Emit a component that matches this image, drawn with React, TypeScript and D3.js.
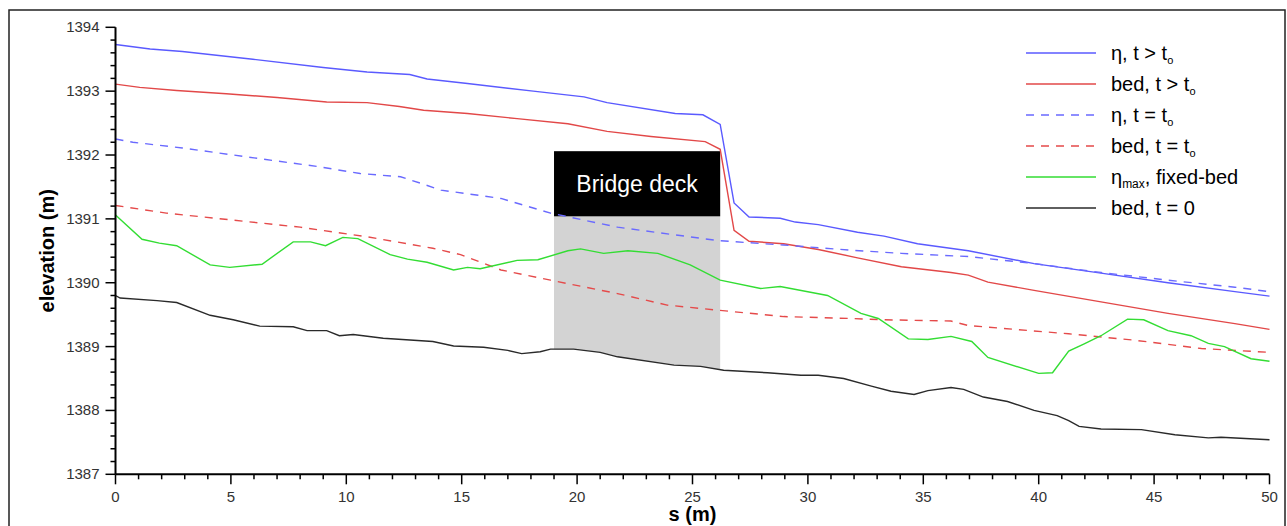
import React from 'react';
import * as d3 from 'd3';

const WIDTH = 1287;
const HEIGHT = 526;
const PLOT = { left: 115.5, right: 1269.5, top: 27.3, bottom: 474.3 };
const FONT = '"Liberation Sans", Arial, sans-serif';

// eta, t > t0
const ETA_T_S = [0, 1.5, 2.9, 5.95, 9.0, 10.9, 12.75, 13.5, 15.25, 18.1, 20.3, 21.3, 24.25, 25.45, 26.2, 26.8, 27.45, 28.8, 29.45, 30.45, 32.15, 33.3, 34.75, 36.95, 39.8, 42.7, 45.6, 48.5, 50];
const ETA_T_V = [1393.73, 1393.66, 1393.62, 1393.5, 1393.37, 1393.3, 1393.26, 1393.19, 1393.12, 1393.0, 1392.91, 1392.82, 1392.65, 1392.63, 1392.48, 1391.25, 1391.03, 1391.01, 1390.95, 1390.91, 1390.79, 1390.73, 1390.61, 1390.5, 1390.3, 1390.15, 1390.0, 1389.86, 1389.79];

// bed, t > t0
const BED_T_S = [0, 1.05, 2.65, 4.8, 7.0, 9.15, 10.9, 12.3, 13.35, 15.25, 17.4, 19.6, 21.3, 23.2, 25.55, 26.2, 26.8, 27.45, 28.95, 30.45, 32.15, 34.05, 36.2, 36.95, 37.8, 39.8, 42.7, 45.6, 48.5, 50];
const BED_T_V = [1393.11, 1393.06, 1393.01, 1392.96, 1392.9, 1392.83, 1392.82, 1392.76, 1392.7, 1392.65, 1392.57, 1392.49, 1392.37, 1392.29, 1392.21, 1392.09, 1390.82, 1390.65, 1390.61, 1390.52, 1390.39, 1390.25, 1390.16, 1390.12, 1390.01, 1389.88, 1389.7, 1389.52, 1389.36, 1389.27];

// eta, t = t0
const ETA_0_S = [0, 0.75, 2.9, 5.5, 8.75, 10.6, 12.35, 13.2, 14.1, 16.7, 18.85, 21.75, 26.1, 28.95, 31.85, 34.05, 36.95, 39.8, 42.7, 45.6, 48.5, 50];
const ETA_0_V = [1392.25, 1392.2, 1392.11, 1391.98, 1391.82, 1391.71, 1391.66, 1391.56, 1391.45, 1391.32, 1391.09, 1390.87, 1390.66, 1390.59, 1390.51, 1390.46, 1390.41, 1390.3, 1390.16, 1390.04, 1389.93, 1389.86];

// bed, t = t0
const BED_0_S = [0, 2.2, 5.1, 8.0, 10.9, 13.75, 14.95, 16.7, 18.85, 21.75, 23.9, 26.1, 28.95, 31.85, 33.3, 36.2, 36.95, 41.3, 44.15, 47.05, 50];
const BED_0_V = [1391.21, 1391.09, 1390.98, 1390.87, 1390.72, 1390.54, 1390.44, 1390.2, 1390.04, 1389.83, 1389.65, 1389.57, 1389.47, 1389.44, 1389.42, 1389.4, 1389.33, 1389.2, 1389.1, 1388.97, 1388.91];

// eta_max, fixed-bed
const ETA_MAX_S = [0, 1.15, 1.9, 2.65, 4.1, 4.95, 6.35, 7.7, 8.45, 9.1, 9.85, 10.5, 11.9, 12.65, 13.5, 14.65, 15.25, 15.8, 17.4, 18.3, 19.6, 20.15, 21.15, 22.2, 23.5, 24.9, 26.2, 27.95, 28.8, 30.85, 32.3, 33.05, 34.35, 35.2, 36.2, 37.1, 37.8, 40.0, 40.6, 41.3, 41.95, 42.7, 43.85, 44.55, 45.6, 46.6, 47.35, 48.05, 49.2, 50];
const ETA_MAX_V = [1391.06, 1390.68, 1390.62, 1390.58, 1390.28, 1390.24, 1390.29, 1390.64, 1390.64, 1390.58, 1390.71, 1390.69, 1390.44, 1390.37, 1390.32, 1390.2, 1390.24, 1390.22, 1390.35, 1390.36, 1390.5, 1390.53, 1390.46, 1390.5, 1390.46, 1390.28, 1390.04, 1389.91, 1389.94, 1389.8, 1389.52, 1389.44, 1389.12, 1389.11, 1389.16, 1389.08, 1388.83, 1388.58, 1388.59, 1388.93, 1389.04, 1389.17, 1389.43, 1389.42, 1389.25, 1389.17, 1389.05, 1389.0, 1388.81, 1388.77];

// bed, t = 0
const BED_INIT_S = [0, 0.2, 1.8, 2.65, 4.1, 5.1, 6.25, 7.7, 8.3, 9.15, 9.7, 10.3, 11.6, 13.75, 14.65, 15.95, 17.0, 17.6, 18.4, 18.85, 19.85, 21.0, 21.75, 24.2, 25.35, 26.35, 28.25, 29.7, 30.45, 31.55, 32.75, 33.6, 34.6, 35.2, 36.2, 36.75, 37.6, 38.65, 39.8, 40.8, 41.3, 41.75, 42.7, 44.45, 45.9, 47.35, 47.9, 50];
const BED_INIT_V = [1389.8, 1389.76, 1389.72, 1389.69, 1389.49, 1389.42, 1389.32, 1389.31, 1389.25, 1389.25, 1389.17, 1389.19, 1389.13, 1389.08, 1389.01, 1388.99, 1388.94, 1388.89, 1388.92, 1388.96, 1388.96, 1388.91, 1388.84, 1388.71, 1388.69, 1388.63, 1388.59, 1388.55, 1388.55, 1388.5, 1388.38, 1388.3, 1388.25, 1388.31, 1388.36, 1388.33, 1388.21, 1388.14, 1388.0, 1387.92, 1387.84, 1387.75, 1387.71, 1387.7, 1387.62, 1387.57, 1387.58, 1387.54];

// bridge deck
const DECK_S = [19, 26.2];
const DECK_V = [1391.04, 1392.06];
const DECK_LABEL = 'Bridge deck';

const X_DOMAIN = [0, 50];
const Y_DOMAIN = [1387, 1394];

const SERIES = [
  { key: 'etaT', s: ETA_T_S, v: ETA_T_V, color: '#5a5aff', dash: null, label: 'η, t > t', sub: 'o', rest: '' },
  { key: 'bedT', s: BED_T_S, v: BED_T_V, color: '#e24848', dash: null, label: 'bed, t > t', sub: 'o', rest: '' },
  { key: 'eta0', s: ETA_0_S, v: ETA_0_V, color: '#6a6aff', dash: '8,7', label: 'η, t = t', sub: 'o', rest: '' },
  { key: 'bed0', s: BED_0_S, v: BED_0_V, color: '#e54a4a', dash: '8,7', label: 'bed, t = t', sub: 'o', rest: '' },
  { key: 'etaMax', s: ETA_MAX_S, v: ETA_MAX_V, color: '#33dd33', dash: null, label: 'η', sub: 'max', rest: ', fixed-bed' },
  { key: 'bedInit', s: BED_INIT_S, v: BED_INIT_V, color: '#2a2a2a', dash: null, label: 'bed, t = 0', sub: '', rest: '' },
];

export default function App() {
  const x = d3.scaleLinear().domain(X_DOMAIN).range([PLOT.left, PLOT.right]);
  const y = d3.scaleLinear().domain(Y_DOMAIN).range([PLOT.bottom, PLOT.top]);

  const line = d3
    .line<[number, number]>()
    .x((d) => x(d[0]))
    .y((d) => y(d[1]));

  // gray pier/opening region under the deck, down to the initial bed
  const bedAt = d3.scaleLinear().domain(BED_INIT_S).range(BED_INIT_V);
  const openPts: number[] = [DECK_S[0], ...BED_INIT_S.filter((s) => s > DECK_S[0] && s < DECK_S[1]), DECK_S[1]];
  const openArea = d3
    .area<number>()
    .x((s) => x(s))
    .y0((s) => y(bedAt(s)))
    .y1(() => y(DECK_V[0]));

  const xMinor = x.ticks(50);
  const xMajor = x.ticks(10);
  const yMinor = y.ticks(35);
  const yMajor = y.ticks(7);

  const legendX = 1026;
  const legendY = 53;
  const legendStep = 31;

  return (
    <svg
      width={WIDTH}
      height={HEIGHT}
      style={{ position: 'absolute', left: 0, top: 0, background: '#fff' }}
      fontFamily={FONT}
    >
      <rect x={0} y={0} width={WIDTH} height={HEIGHT} fill="#fff" />
      <rect x={9} y={10} width={1276} height={540} fill="none" stroke="#222" strokeWidth={1.5} />

      <path d={openArea(openPts) ?? ''} fill="#d3d3d3" />
      <rect
        x={x(DECK_S[0])}
        y={y(DECK_V[1])}
        width={x(DECK_S[1]) - x(DECK_S[0])}
        height={y(DECK_V[0]) - y(DECK_V[1])}
        fill="#000"
      />
      <text
        x={(x(DECK_S[0]) + x(DECK_S[1])) / 2}
        y={(y(DECK_V[0]) + y(DECK_V[1])) / 2 + 8}
        textAnchor="middle"
        fill="#fff"
        fontSize={23}
      >
        {DECK_LABEL}
      </text>

      {SERIES.map((sr) => (
        <path
          key={sr.key}
          d={line(sr.s.map((s, i) => [s, sr.v[i]] as [number, number])) ?? ''}
          fill="none"
          stroke={sr.color}
          strokeWidth={1.4}
          strokeDasharray={sr.dash ?? undefined}
        />
      ))}

      {/* axes */}
      <line x1={PLOT.left} x2={PLOT.right} y1={PLOT.bottom} y2={PLOT.bottom} stroke="#000" strokeWidth={2} />
      <line x1={PLOT.left} x2={PLOT.left} y1={PLOT.top} y2={PLOT.bottom} stroke="#000" strokeWidth={2} />
      {xMinor.map((t) => (
        <line key={`xm-${t}`} x1={x(t)} x2={x(t)} y1={PLOT.bottom} y2={PLOT.bottom + (t % 5 === 0 ? 10 : 5)} stroke="#000" strokeWidth={1.5} />
      ))}
      {xMajor.map((t) => (
        <text key={`xl-${t}`} x={x(t)} y={PLOT.bottom + 28} textAnchor="middle" fontSize={15} fill="#333">
          {t}
        </text>
      ))}
      {yMinor.map((t) => {
        const major = Math.abs(t - Math.round(t)) < 1e-6;
        return (
          <line key={`ym-${t}`} x1={PLOT.left - (major ? 10 : 5)} x2={PLOT.left} y1={y(t)} y2={y(t)} stroke="#000" strokeWidth={1.5} />
        );
      })}
      {yMajor.map((t) => (
        <text key={`yl-${t}`} x={PLOT.left - 16} y={y(t) + 5} textAnchor="end" fontSize={15} fill="#333">
          {t}
        </text>
      ))}
      <text
        x={(PLOT.left + PLOT.right) / 2}
        y={521}
        textAnchor="middle"
        fontSize={20}
        fontWeight="bold"
      >
        s (m)
      </text>
      <text
        transform={`translate(54, ${(PLOT.top + PLOT.bottom) / 2}) rotate(-90)`}
        textAnchor="middle"
        fontSize={20}
        fontWeight="bold"
      >
        elevation (m)
      </text>

      {/* legend */}
      {SERIES.map((sr, i) => {
        const ly = legendY + i * legendStep;
        return (
          <g key={`lg-${sr.key}`}>
            <line x1={legendX} x2={legendX + 70} y1={ly} y2={ly} stroke={sr.color} strokeWidth={1.4} strokeDasharray={sr.dash ?? undefined} />
            <text x={legendX + 85} y={ly + 7} fontSize={20} fill="#000">
              {sr.label}
              {sr.sub && (
                <tspan fontSize={sr.sub === 'max' ? 12 : 11} dy={4}>
                  {sr.sub}
                </tspan>
              )}
              {sr.rest && (
                <tspan dy={-4}>{sr.rest}</tspan>
              )}
            </text>
          </g>
        );
      })}
    </svg>
  );
}
